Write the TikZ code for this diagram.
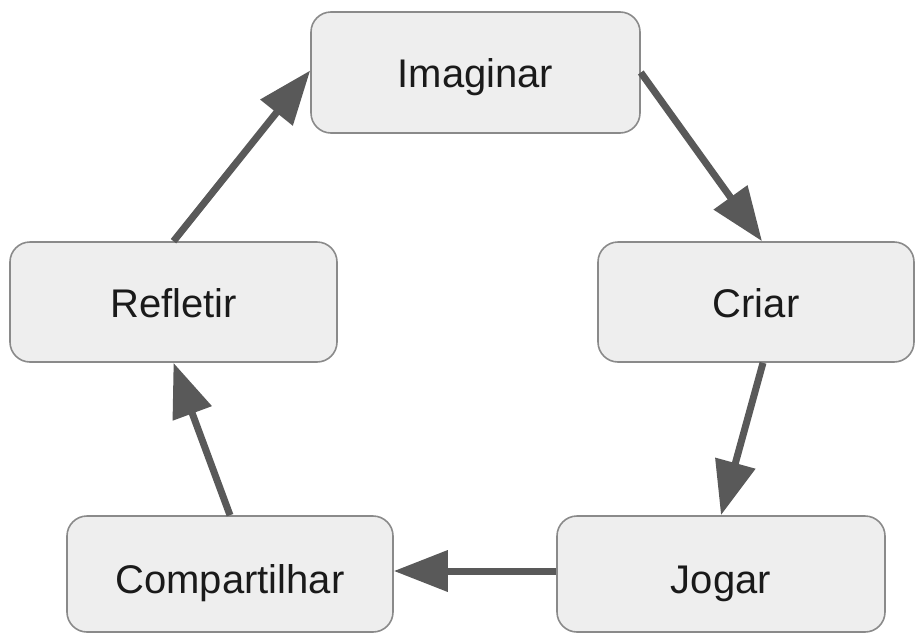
\documentclass[tikz,border=0pt]{standalone}
\usepackage{fontspec}
\setmainfont{Liberation Sans}
\usetikzlibrary{arrows.meta}
\definecolor{boxfill}{HTML}{EEEEEE}
\definecolor{boxline}{HTML}{8A8A8A}
\definecolor{arrowgray}{HTML}{595959}
\definecolor{textblack}{HTML}{1A1A1A}
\tikzset{
  stagebox/.style={draw=boxline, line width=1.6pt, fill=boxfill,
    rounded corners=20pt, rectangle, text=textblack,
    minimum width=327pt, minimum height=120pt, inner sep=0pt,
    font=\fontsize{40}{48}\selectfont, text height=29pt, text depth=0pt},
  lowbox/.style={stagebox, minimum height=116pt, text height=38pt},
  flow/.style={draw=arrowgray, line width=7pt,
    -{Triangle[length=54pt,width=40pt]}}
}
\begin{document}
\begin{tikzpicture}[x=1pt,y=-1pt]
  \useasboundingbox (0,0) rectangle (915,632);
  % the five stages of the cycle
  \node[stagebox, minimum width=329pt, minimum height=121pt] (imaginar) at (475.5,72.5) {Imaginar};
  \node[stagebox, minimum width=316pt, text height=31pt] (criar) at (756,302) {Criar};
  \node[lowbox, minimum width=328pt] (jogar) at (721,574) {Jogar};
  \node[lowbox, minimum width=326pt] (compartilhar) at (230,574) {Compartilhar};
  \node[stagebox, text height=31pt] (refletir) at (173.5,302) {Refletir};
  % arrows around the cycle
  \draw[flow] (imaginar.east) -- ([xshift=6pt]criar.north);
  \draw[flow] ([xshift=7pt]criar.south) -- (jogar.north);
  \draw[flow] ([yshift=3pt]jogar.west) -- ([yshift=3pt]compartilhar.east);
  \draw[flow] (compartilhar.north) -- (refletir.south);
  \draw[flow] (refletir.north) -- ([yshift=2pt]imaginar.west);
\end{tikzpicture}
\end{document}
